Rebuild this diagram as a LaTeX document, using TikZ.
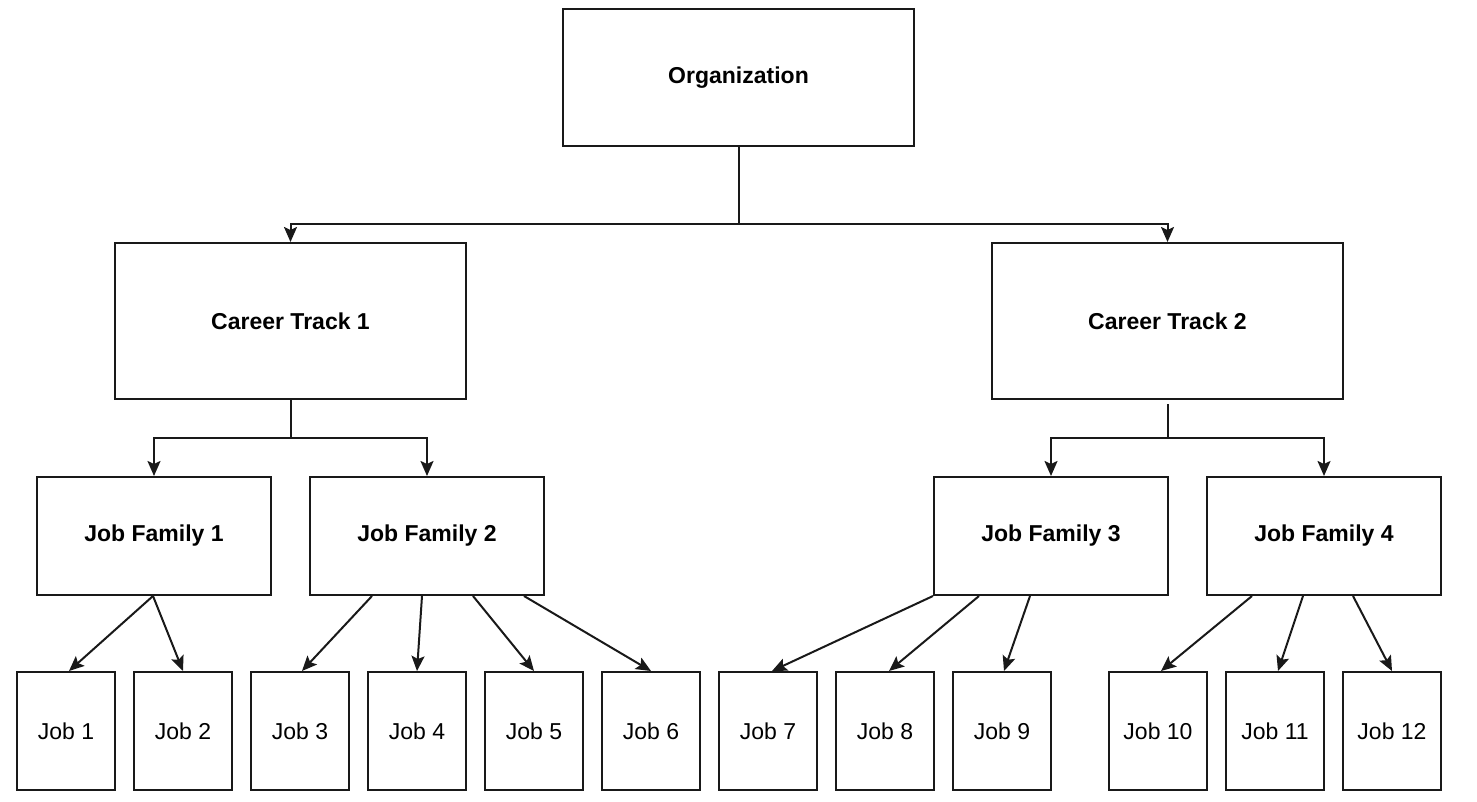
\documentclass[tikz,border=0pt]{standalone}
\usepackage{fontspec}
\setmainfont{Liberation Sans}
\usetikzlibrary{arrows.meta}
\begin{document}
\begin{tikzpicture}[x=1pt,y=-1pt,
  box/.style={draw=black!90,line width=2pt,fill=white,inner sep=0pt,align=center,font=\fontsize{23}{27}\selectfont},
  big/.style={box,minimum width=351pt,font=\fontsize{23}{27}\selectfont\bfseries},
  fam/.style={box,minimum width=234pt,minimum height=118pt,font=\fontsize{23}{27}\selectfont\bfseries},
  jobbox/.style={box,minimum width=98pt,minimum height=118pt},
  conn/.style={line width=2pt,draw=black!90},
  arr/.style={conn,-{Stealth[length=15pt,width=13pt,inset=3pt]}}]
\useasboundingbox (0,0) rectangle (1477,802);
% nodes
\node[big,minimum height=137pt] (org) at (738.5,77.5) {Organization};
\node[big,minimum height=156pt] (ct1) at (290.5,321) {Career Track 1};
\node[big,minimum height=156pt] (ct2) at (1167.5,321) {Career Track 2};
\node[fam] (jf1) at (154,536) {Job Family 1};
\node[fam] (jf2) at (427,536) {Job Family 2};
\node[fam] (jf3) at (1051,536) {Job Family 3};
\node[fam] (jf4) at (1324,536) {Job Family 4};
\node[jobbox] (j1) at (66,731) {Job 1};
\node[jobbox] (j2) at (183,731) {Job 2};
\node[jobbox] (j3) at (300,731) {Job 3};
\node[jobbox] (j4) at (417,731) {Job 4};
\node[jobbox] (j5) at (534,731) {Job 5};
\node[jobbox] (j6) at (651,731) {Job 6};
\node[jobbox] (j7) at (768,731) {Job 7};
\node[jobbox] (j8) at (885,731) {Job 8};
\node[jobbox] (j9) at (1002,731) {Job 9};
\node[jobbox] (j10) at (1158,731) {Job 10};
\node[jobbox] (j11) at (1275,731) {Job 11};
\node[jobbox] (j12) at (1392,731) {Job 12};
% junctions
\coordinate (k0) at (738.5,224);
\coordinate (k1) at (290.5,438);
\coordinate (k2) at (1167.5,438);
% org level
\draw[conn] (org.south) -- (k0);
\draw[arr] (k0) -| (ct1.north);
\draw[arr] (k0) -| (ct2.north);
% career tracks
\draw[conn] (ct1.south) -- (k1);
\draw[arr] (k1) -| (jf1.north);
\draw[arr] (k1) -| (jf2.north);
\draw[conn,shorten <=4pt] (ct2.south) -- (k2);
\draw[arr] (k2) -| (jf3.north);
\draw[arr] (k2) -| (jf4.north);
% job family 1
\draw[arr] ([xshift=-1pt]jf1.south) -- ([xshift=3pt]j1.north);
\draw[arr] ([xshift=-1pt]jf1.south) -- (j2.north);
% job family 2
\draw[arr] ([xshift=-55pt]jf2.south) -- ([xshift=2pt]j3.north);
\draw[arr] ([xshift=-5pt]jf2.south) -- (j4.north);
\draw[arr] ([xshift=46pt]jf2.south) -- (j5.north);
\draw[arr] ([xshift=97pt]jf2.south) -- (j6.north);
% job family 3
\draw[arr] (jf3.south west) -- ([xshift=4pt]j7.north);
\draw[arr] ([xshift=-72pt]jf3.south) -- ([xshift=4pt]j8.north);
\draw[arr] ([xshift=-21pt]jf3.south) -- ([xshift=2pt]j9.north);
% job family 4
\draw[arr] ([xshift=-72pt]jf4.south) -- ([xshift=3pt]j10.north);
\draw[arr] ([xshift=-21pt]jf4.south) -- ([xshift=3pt]j11.north);
\draw[arr] ([xshift=29pt]jf4.south) -- (j12.north);
\end{tikzpicture}
\end{document}
